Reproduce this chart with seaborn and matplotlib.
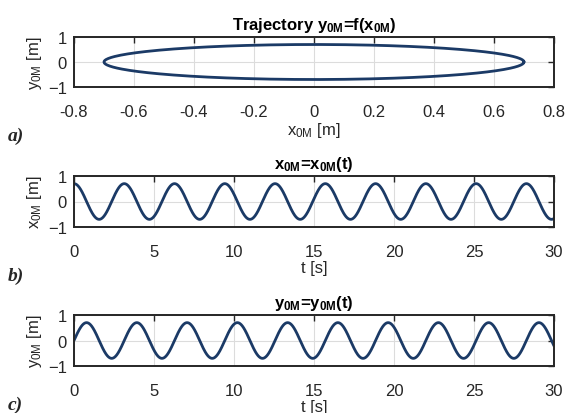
import numpy as np
import pandas as pd
import matplotlib
matplotlib.use("Agg")
import matplotlib.pyplot as plt
import seaborn as sns

# Motion parameters of point 0M
amplitude_x = 0.7      # m
amplitude_y = 0.7      # m
omega = 2.0            # rad/s
t_span = [0.0, 30.0]   # s

x_ticks_traj = [-0.8, -0.6, -0.4, -0.2, 0, 0.2, 0.4, 0.6, 0.8]
x_tick_labels_traj = ["-0.8", "-0.6", "-0.4", "-0.2", "0", "0.2", "0.4", "0.6", "0.8"]
y_ticks = [-1, 0, 1]
t_ticks = [0, 5, 10, 15, 20, 25, 30]

t = np.linspace(t_span[0], t_span[1], 3001)
df = pd.DataFrame({"t": t,
                   "x": amplitude_x * np.cos(omega * t),
                   "y": amplitude_y * np.sin(omega * t)})
# one closed loop of the trajectory is enough for the path plot
loop = df[df["t"] <= 2 * np.pi / omega + 0.02]

sns.set_theme(style="white")
plt.rcParams["font.family"] = ["Liberation Sans", "DejaVu Sans"]
plt.rcParams["mathtext.fontset"] = "custom"
plt.rcParams["mathtext.rm"] = "Liberation Sans"
plt.rcParams["mathtext.it"] = "Liberation Sans"
plt.rcParams["mathtext.bf"] = "Liberation Sans:bold"

line_color = "#1b3a66"
text_color = "#262626"
fig = plt.figure(figsize=(5.66, 4.14), dpi=100)
W, H = 566, 414
boxes = [(74, 38, 554, 88), (74, 177, 554, 228), (74, 316, 554, 367)]
axes = [fig.add_axes([l / W, 1 - b / H, (r - l) / W, (b - tp) / H]) for (l, tp, r, b) in boxes]


def style(ax, xticks, xlim):
    ax.set_xlim(*xlim)
    ax.set_ylim(-1, 1)
    ax.set_xticks(xticks)
    ax.set_yticks(y_ticks)
    ax.grid(True, color="#dcdcdc", linewidth=0.8)
    ax.set_axisbelow(True)
    for s in ax.spines.values():
        s.set_color(text_color)
        s.set_linewidth(1.4)
        s.set_visible(True)
    ax.tick_params(direction="in", length=4, width=1.0, color=text_color,
                   top=True, right=True, labelsize=12, labelcolor=text_color)
    ax.tick_params(axis="x", pad=12)
    ax.tick_params(axis="y", pad=5)


def labels(ax, title, xlabel, ylabel):
    ax.set_title(title, fontsize=12, fontweight="bold", pad=6, color="black")
    ax.set_xlabel(xlabel, fontsize=12, color=text_color, labelpad=1)
    ax.set_ylabel(ylabel, fontsize=12, color=text_color, labelpad=3)


ax = axes[0]
sns.lineplot(data=loop, x="x", y="y", sort=False, ax=ax, color=line_color, linewidth=2.0)
style(ax, x_ticks_traj, (-0.8, 0.8))
ax.set_xticklabels(x_tick_labels_traj)
labels(ax, r"Trajectory $\mathbf{y_{0M}}$=f($\mathbf{x_{0M}}$)",
       r"$\mathrm{x_{0M}}$ [m]", r"$\mathrm{y_{0M}}$ [m]")

ax = axes[1]
sns.lineplot(data=df, x="t", y="x", ax=ax, color=line_color, linewidth=2.0)
style(ax, t_ticks, t_span)
labels(ax, r"$\mathbf{x_{0M}}$=$\mathbf{x_{0M}}$(t)", "t [s]", r"$\mathrm{x_{0M}}$ [m]")

ax = axes[2]
sns.lineplot(data=df, x="t", y="y", ax=ax, color=line_color, linewidth=2.0)
style(ax, t_ticks, t_span)
labels(ax, r"$\mathbf{y_{0M}}$=$\mathbf{y_{0M}}$(t)", "t [s]", r"$\mathrm{y_{0M}}$ [m]")

for label, ypix in [("a)", 136), ("b)", 276), ("c)", 405)]:
    fig.text(8 / W, 1 - ypix / H, label, fontsize=14, fontweight="bold", fontstyle="italic",
             family=["Liberation Serif", "DejaVu Serif"], va="center", ha="left")

fig.savefig("out.png", dpi=100)
